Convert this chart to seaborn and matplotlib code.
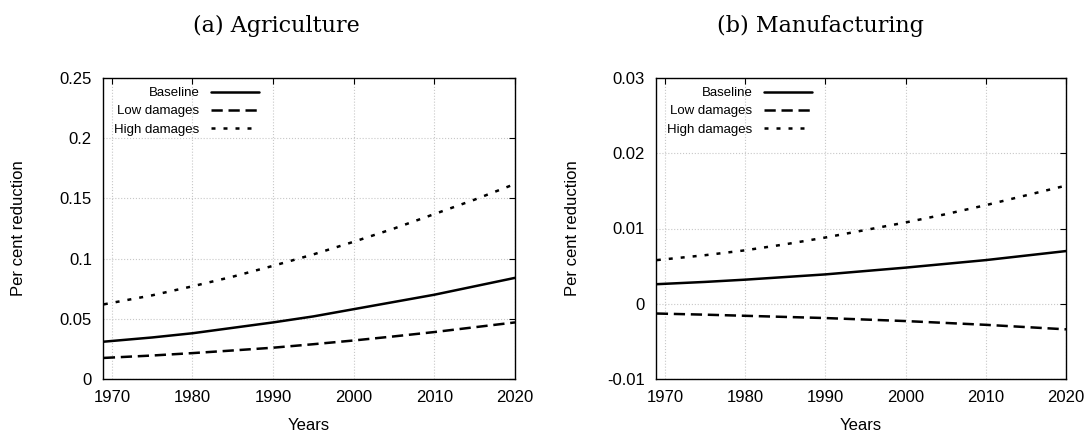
import numpy as np
import pandas as pd
import matplotlib
matplotlib.use("Agg")
import matplotlib.pyplot as plt
import seaborn as sns

# Values
years = [1969, 1975, 1980, 1985, 1990, 1995, 2000, 2005, 2010, 2015, 2020]
scenarios = ["Baseline", "Low damages", "High damages"]

agri_baseline = [0.031, 0.0345, 0.038, 0.0425, 0.047, 0.052, 0.058, 0.064, 0.070, 0.077, 0.084]
agri_low = [0.0175, 0.0195, 0.0215, 0.0237, 0.026, 0.0289, 0.032, 0.0354, 0.039, 0.043, 0.047]
agri_high = [0.062, 0.0695, 0.077, 0.085, 0.094, 0.1035, 0.114, 0.125, 0.137, 0.149, 0.162]

manu_baseline = [0.0026, 0.0029, 0.0032, 0.00355, 0.0039, 0.00435, 0.0048, 0.0053, 0.0058, 0.0064, 0.0070]
manu_low = [-0.0013, -0.00145, -0.0016, -0.00175, -0.0019, -0.0021, -0.0023, -0.00255, -0.0028, -0.0031, -0.0034]
manu_high = [0.0058, 0.00645, 0.0071, 0.0079, 0.0088, 0.0098, 0.0108, 0.0119, 0.0131, 0.0144, 0.0157]

x_ticks = [1970, 1980, 1990, 2000, 2010, 2020]
agri_yticks = [0, 0.05, 0.1, 0.15, 0.2, 0.25]
agri_ylabels = ["0", "0.05", "0.1", "0.15", "0.2", "0.25"]
manu_yticks = [-0.01, 0, 0.01, 0.02, 0.03]
manu_ylabels = ["-0.01", "0", "0.01", "0.02", "0.03"]

titles = ["(a) Agriculture", "(b) Manufacturing"]

sns.set_style("white")
plt.rcParams["font.family"] = ["Liberation Sans", "DejaVu Sans"]
plt.rcParams["text.color"] = "black"
plt.rcParams["axes.labelcolor"] = "black"


def make_df(base, low, high):
    return pd.DataFrame({
        "year": years * 3,
        "value": base + low + high,
        "scenario": np.repeat(scenarios, len(years)),
    })


dash_styles = {
    "Baseline": "",
    "Low damages": (4.5, 2.3),
    "High damages": (1.6, 3.2),
}

fig = plt.figure(figsize=(10.89, 4.33), dpi=100)
ax1 = fig.add_axes([103 / 1089, 54 / 433, 412 / 1089, 301 / 433])
ax2 = fig.add_axes([656 / 1089, 54 / 433, 410 / 1089, 301 / 433])

panels = [
    (ax1, make_df(agri_baseline, agri_low, agri_high), (0, 0.25), agri_yticks, agri_ylabels),
    (ax2, make_df(manu_baseline, manu_low, manu_high), (-0.01, 0.03), manu_yticks, manu_ylabels),
]

for ax, df, ylim, yt, ylab in panels:
    sns.lineplot(data=df, x="year", y="value", style="scenario",
                 style_order=scenarios, dashes=dash_styles, color="black",
                 linewidth=1.8, ax=ax)
    ax.set_xlim(1968.9, 2020)
    ax.set_ylim(*ylim)
    ax.set_xticks(x_ticks)
    ax.set_yticks(yt)
    ax.set_yticklabels(ylab)
    ax.grid(True, color="#c8c8c8", linestyle=":", linewidth=0.8)
    ax.tick_params(direction="in", length=4, width=0.8, labelsize=12,
                   top=True, right=True, pad=8, colors="black")
    for s in ax.spines.values():
        s.set_color("black")
        s.set_linewidth(1.0)
    ax.set_xlabel("Years", fontsize=12, labelpad=9)
    ax.set_ylabel("Per cent reduction", fontsize=12)
    ax.yaxis.set_label_coords(-0.186, 0.5)
    ax.legend(loc="upper left", bbox_to_anchor=(0.027, 0.97), frameon=False,
              markerfirst=False, fontsize=9.5, handlelength=3.6,
              handletextpad=0.9, labelspacing=0.45, borderpad=0,
              borderaxespad=0)

fig.text(276 / 1089, 401 / 433, titles[0], ha="center", va="baseline",
         fontsize=16, family="DejaVu Serif", color="black")
fig.text(820 / 1089, 401 / 433, titles[1], ha="center", va="baseline",
         fontsize=16, family="DejaVu Serif", color="black")

fig.savefig("out.png", dpi=100)
